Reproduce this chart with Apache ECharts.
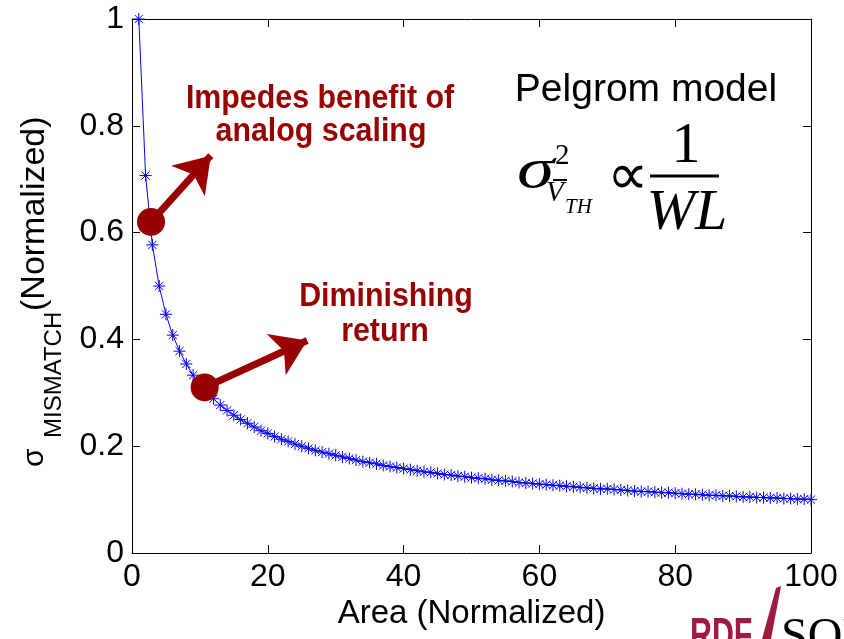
<!DOCTYPE html>
<html>
<head>
<meta charset="utf-8">
<script src="https://cdn.jsdelivr.net/npm/echarts@6/dist/echarts.min.js"></script>
<style>
  html, body { margin: 0; padding: 0; background: #fff; }
  #main { width: 844px; height: 639px; }
</style>
</head>
<body>
<div id="main"></div>
<script>
// area values (normalized) and matching mismatch sigma
var areaValues = [1, 2, 3, 4, 5, 6, 7, 8, 9, 10,
  11, 12, 13, 14, 15, 16, 17, 18, 19, 20,
  21, 22, 23, 24, 25, 26, 27, 28, 29, 30,
  31, 32, 33, 34, 35, 36, 37, 38, 39, 40,
  41, 42, 43, 44, 45, 46, 47, 48, 49, 50,
  51, 52, 53, 54, 55, 56, 57, 58, 59, 60,
  61, 62, 63, 64, 65, 66, 67, 68, 69, 70,
  71, 72, 73, 74, 75, 76, 77, 78, 79, 80,
  81, 82, 83, 84, 85, 86, 87, 88, 89, 90,
  91, 92, 93, 94, 95, 96, 97, 98, 99, 100];
var sigmaValues = [1.000, 0.707, 0.577, 0.500, 0.447, 0.408, 0.378, 0.354, 0.333, 0.316,
  0.302, 0.289, 0.277, 0.267, 0.258, 0.250, 0.243, 0.236, 0.229, 0.224,
  0.218, 0.213, 0.209, 0.204, 0.200, 0.196, 0.192, 0.189, 0.186, 0.183,
  0.180, 0.177, 0.174, 0.171, 0.169, 0.167, 0.164, 0.162, 0.160, 0.158,
  0.156, 0.154, 0.152, 0.151, 0.149, 0.147, 0.146, 0.144, 0.143, 0.141,
  0.140, 0.139, 0.137, 0.136, 0.135, 0.134, 0.132, 0.131, 0.130, 0.129,
  0.128, 0.127, 0.126, 0.125, 0.124, 0.123, 0.122, 0.121, 0.120, 0.120,
  0.119, 0.118, 0.117, 0.116, 0.115, 0.115, 0.114, 0.113, 0.113, 0.112,
  0.111, 0.110, 0.110, 0.109, 0.108, 0.108, 0.107, 0.107, 0.106, 0.105,
  0.105, 0.104, 0.104, 0.103, 0.103, 0.102, 0.102, 0.101, 0.101, 0.100];
var xTicks = [0, 20, 40, 60, 80, 100];
var yTicks = [0, 0.2, 0.4, 0.6, 0.8, 1];

// annotation anchors on the curve (dot) and where the arrows point
var dotPoints = [[2.8, 0.62], [10.7, 0.31]];
var arrowEnds = [[11.6, 0.744], [25.8, 0.398]];

var DARKRED = '#990000';
var SANS = '"Liberation Sans", Arial, sans-serif';
var SERIF = '"Liberation Serif", "Times New Roman", serif';
var STAR = 'path://M0,5L10,5M5,0L5,10M1.6,1.6L8.4,8.4M8.4,1.6L1.6,8.4';

var chart = echarts.init(document.getElementById('main'));

var seriesData = [];
for (var i = 0; i < areaValues.length; i++) {
  seriesData.push([areaValues[i], sigmaValues[i]]);
}

function txt(x, y, text, font, color, align, rot, sx) {
  return {
    type: 'text', x: x, y: y, rotation: rot || 0, scaleX: sx || 1, silent: true, z: 100,
    style: {
      text: text, font: font, fill: color || '#000',
      textAlign: align || 'center', verticalAlign: 'middle', textVerticalAlign: 'middle'
    }
  };
}

var axisBase = {
  min: 0,
  axisLine: { show: true, onZero: false, lineStyle: { color: '#000', width: 1 } },
  axisTick: { show: true, inside: true, length: 8, lineStyle: { color: '#000' } },
  splitLine: { show: false }
};

var option = {
  animation: false,
  backgroundColor: '#fff',
  grid: { left: 132, right: 33, top: 19, bottom: 86 },
  xAxis: [
    echarts.util.merge({
      type: 'value', position: 'bottom', max: 100, interval: 20,
      name: 'Area (Normalized)', nameLocation: 'middle', nameGap: 41,
      nameTextStyle: { fontFamily: SANS, fontSize: 33, color: '#000' },
      axisLabel: { fontFamily: SANS, fontSize: 32, color: '#000', margin: 8 }
    }, axisBase),
    echarts.util.merge({
      type: 'value', position: 'top', max: 100, interval: 20,
      axisLabel: { show: false }
    }, axisBase)
  ],
  yAxis: [
    echarts.util.merge({
      type: 'value', position: 'left', max: 1, interval: 0.2,
      axisLabel: { fontFamily: SANS, fontSize: 32, color: '#000', margin: 8 }
    }, axisBase),
    echarts.util.merge({
      type: 'value', position: 'right', max: 1, interval: 0.2,
      axisLabel: { show: false }
    }, axisBase)
  ],
  series: [{
    type: 'line',
    xAxisIndex: 0,
    yAxisIndex: 0,
    data: seriesData,
    symbol: STAR,
    symbolSize: 12,
    showAllSymbol: true,
    lineStyle: { color: '#0000ff', width: 1 },
    itemStyle: { color: 'rgba(0,0,0,0)', borderColor: '#0000ff', borderWidth: 1 },
    markLine: {
      silent: true,
      symbol: ['none', 'arrow'],
      symbolSize: 34,
      label: { show: false },
      lineStyle: { color: DARKRED, width: 7, type: 'solid', opacity: 1 },
      itemStyle: { color: DARKRED },
      data: [
        [{ coord: dotPoints[0] }, { coord: arrowEnds[0] }],
        [{ coord: dotPoints[1] }, { coord: arrowEnds[1] }]
      ]
    },
    markPoint: {
      silent: true,
      symbol: 'circle',
      symbolSize: 28,
      label: { show: false },
      itemStyle: { color: DARKRED },
      data: [{ coord: dotPoints[0] }, { coord: dotPoints[1] }]
    }
  }],
  graphic: [
    // y axis title, reads bottom to top
    txt(35, 467, 'σ', '30px ' + SANS, '#000', 'left', Math.PI / 2),
    txt(54, 438, 'MISMATCH', '24px ' + SANS, '#000', 'left', Math.PI / 2),
    txt(35, 311, '(Normalized)', '34px ' + SANS, '#000', 'left', Math.PI / 2),

    // annotations
    txt(320, 99, 'Impedes benefit of', 'bold 33px ' + SANS, DARKRED, 'center', 0, 0.92),
    txt(321, 132, 'analog scaling', 'bold 33px ' + SANS, DARKRED, 'center', 0, 0.92),
    txt(386, 297, 'Diminishing', 'bold 33px ' + SANS, DARKRED, 'center', 0, 0.92),
    txt(385, 332, 'return', 'bold 33px ' + SANS, DARKRED, 'center', 0, 0.92),

    // Pelgrom model formula
    txt(646, 90, 'Pelgrom model', '39px ' + SANS),
    txt(517, 172, 'σ', 'italic 58px ' + SERIF, '#000', 'left', 0, 1.3),
    txt(555, 156, '2', '29px ' + SERIF, '#000', 'left'),
    { type: 'line', silent: true, shape: { x1: 553, y1: 180, x2: 567, y2: 180 }, style: { stroke: '#000', lineWidth: 2 } },
    txt(546, 193, 'V', 'italic 29px ' + SERIF, '#000', 'left'),
    txt(565, 207, 'TH', 'italic 21px ' + SERIF, '#000', 'left'),
    txt(627, 179, '∝', '58px ' + SERIF),
    { type: 'line', silent: true, shape: { x1: 650, y1: 176, x2: 719, y2: 176 }, style: { stroke: '#000', lineWidth: 3 } },
    txt(686, 147, '1', '58px ' + SERIF),
    txt(687, 214, 'WL', 'italic 58px ' + SERIF),

    // logo, cut off by the bottom edge
    {
      type: 'text', x: 690, y: 614, scaleX: 0.66, silent: true,
      style: { text: 'RDF', font: 'bold 46px ' + SANS, fill: '#9e1b3f', textAlign: 'left', verticalAlign: 'top', textVerticalAlign: 'top' }
    },
    {
      type: 'polygon', silent: true,
      shape: { points: [[762, 639], [771, 639], [781, 586], [776, 588]] },
      style: { fill: '#9e1b3f' }
    },
    {
      type: 'text', x: 781, y: 614, silent: true,
      style: { text: 'SOL', font: '48px ' + SERIF, fill: '#000', textAlign: 'left', verticalAlign: 'top', textVerticalAlign: 'top' }
    }
  ]
};

chart.setOption(option);
</script>
</body>
</html>
